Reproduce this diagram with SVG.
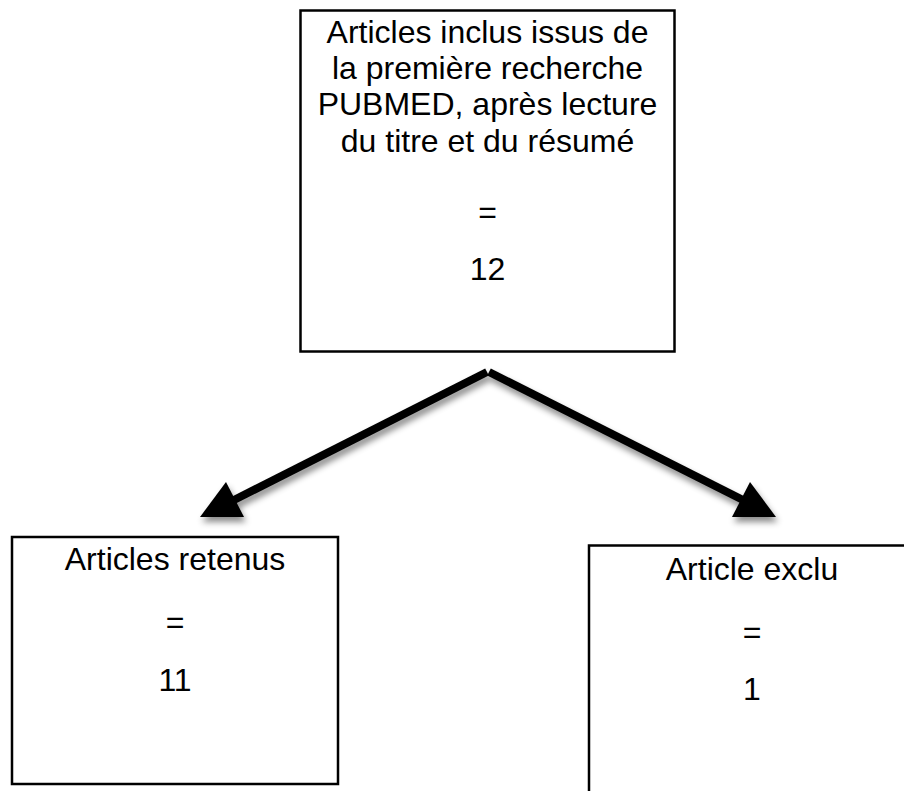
<svg xmlns="http://www.w3.org/2000/svg" width="904" height="791" viewBox="0 0 904 791">
<style>
.box{fill:#fff;stroke:#000;stroke-width:2.5}
.t{font-family:"Liberation Sans",Arial,sans-serif;font-size:32px;fill:#000;text-anchor:middle}
.conn{stroke:#000;stroke-width:8;fill:none}
</style>
<defs>
<filter id="sh" x="-20%" y="-20%" width="140%" height="160%">
<feDropShadow dx="2" dy="5" stdDeviation="3" flood-color="#000" flood-opacity="0.45"/>
</filter>
</defs>
<rect width="904" height="791" fill="#fff"/>
<g id="connectors" filter="url(#sh)">
<line class="conn" x1="487" y1="372" x2="232" y2="501"/>
<line class="conn" x1="489" y1="372" x2="745" y2="501"/>
<polygon points="226,482 200,517 244,517" fill="#000"/>
<polygon points="750,482 732,517 776,517" fill="#000"/>
</g>
<g id="top">
<rect class="box" x="300.5" y="10.5" width="374" height="341"/>
<text class="t" x="487.5" y="43">Articles inclus issus de</text>
<text class="t" x="487.5" y="79">la première recherche</text>
<text class="t" x="487.5" y="115">PUBMED, après lecture</text>
<text class="t" x="487.5" y="152">du titre et du résumé</text>
<text class="t" x="487.5" y="223">=</text>
<text class="t" x="487.5" y="280">12</text>
</g>
<g id="retenus">
<rect class="box" x="12" y="537" width="326" height="247"/>
<text class="t" x="175" y="570">Articles retenus</text>
<text class="t" x="175" y="633">=</text>
<text class="t" x="175" y="691">11</text>
</g>
<g id="exclu">
<rect class="box" x="589" y="545.5" width="328" height="260"/>
<text class="t" x="752" y="580">Article exclu</text>
<text class="t" x="752" y="643">=</text>
<text class="t" x="752" y="700">1</text>
</g>
</svg>
